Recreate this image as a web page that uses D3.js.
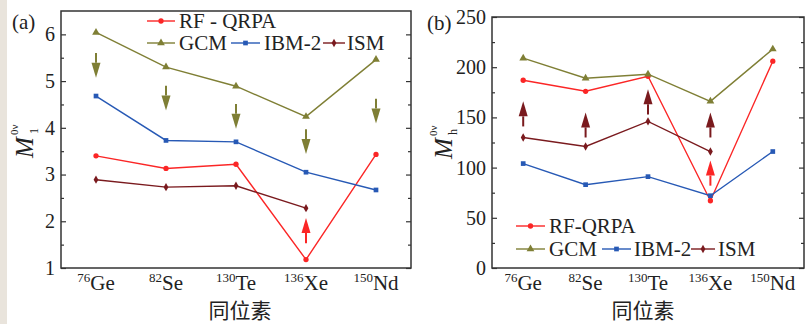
<!DOCTYPE html>
<html>
<head>
<meta charset="utf-8">
<script src="https://cdn.jsdelivr.net/npm/d3@7"></script>
<style>
  body { margin: 0; background: #fff; }
  svg { display: block; }
  text { font-family: "Liberation Serif", "Times New Roman", serif; fill: #222; }
</style>
</head>
<body>
<script>
const width = 810;
const height = 324;

const isotopes = ["Ge", "Se", "Te", "Xe", "Nd"];
const massNums = ["76", "82", "130", "136", "150"];
const models = ["RF-QRPA", "GCM", "IBM-2", "ISM"];
const colors = ["#fb2626", "#7f7f35", "#2759b5", "#7a1a1e"];

// panel (a): M_1^{0v}
const m1RF = [3.40, 3.13, 3.22, 1.18, 3.43];
const m1GCM = [6.04, 5.30, 4.89, 4.24, 5.46];
const m1IBM = [4.68, 3.73, 3.70, 3.05, 2.67];
const m1ISM = [2.89, 2.73, 2.76, 2.28, null];
// panel (b): M_h^{0v}
const mhRF = [187, 176, 191, 67, 206];
const mhGCM = [209, 189, 193, 166, 218];
const mhIBM = [104, 83, 91, 72, 116];
const mhISM = [130, 121, 146, 116, null];

// arrows: [isotope index, tail value, head value, model index]
const arrowsA = [[0, 5.6, 5.07, 1], [1, 4.9, 4.37, 1], [2, 4.51, 3.98, 1], [3, 3.97, 3.44, 1], [4, 4.62, 4.09, 1], [3, 1.53, 2.07, 0]];
const arrowsB = [[0, 141, 166, 3], [1, 130, 155, 3], [2, 153, 178, 3], [3, 130, 155, 3], [3, 82, 107, 0]];

const svg = d3.select("body").append("svg")
  .attr("width", width)
  .attr("height", height);

// beige strip on the left edge
svg.append("rect").attr("x", 0).attr("y", 0).attr("width", 7).attr("height", height).attr("fill", "#e9e4dc");

const symbols = [d3.symbolCircle, d3.symbolTriangle, d3.symbolSquare, d3.symbolDiamond];
const symSize = [22, 26, 22, 20];

function drawPanel(cfg) {
  const x = d3.scalePoint().domain(isotopes).range([cfg.left, cfg.right]).padding(0.5);
  const y = d3.scaleLinear().domain(cfg.yDomain).range([cfg.bottom, cfg.top]);
  const g = svg.append("g");

  // axes with inward ticks
  g.append("g").attr("transform", `translate(${cfg.left},0)`)
    .call(d3.axisLeft(y).tickValues(cfg.majors).tickSize(-5).tickPadding(6).tickFormat(d3.format("d")))
    .call(a => a.select(".domain").remove())
    .attr("font-family", null)
    .call(a => a.selectAll("text").attr("font-size", 20).attr("fill", "#222"));
  g.append("g").attr("transform", `translate(${cfg.left},0)`)
    .call(d3.axisLeft(y).tickValues(cfg.minors).tickSize(-3).tickFormat(""))
    .call(a => a.select(".domain").remove());
  g.append("g").attr("transform", `translate(${cfg.right},0)`)
    .call(d3.axisRight(y).tickValues(cfg.majors).tickSize(-5).tickFormat(""))
    .call(a => a.select(".domain").remove());
  g.append("g").attr("transform", `translate(${cfg.right},0)`)
    .call(d3.axisRight(y).tickValues(cfg.minors).tickSize(-3).tickFormat(""))
    .call(a => a.select(".domain").remove());
  g.selectAll(".tick line").attr("stroke", "#333").attr("stroke-width", 1.2);

  g.append("rect")
    .attr("x", cfg.left).attr("y", cfg.top)
    .attr("width", cfg.right - cfg.left).attr("height", cfg.bottom - cfg.top)
    .attr("fill", "none").attr("stroke", "#333").attr("stroke-width", 1.5);

  // x labels
  const xl = g.selectAll(".xl").data(isotopes).enter().append("text")
    .attr("x", d => x(d)).attr("y", cfg.bottom + 22)
    .attr("text-anchor", "middle").attr("font-size", 21);
  xl.append("tspan").attr("font-size", 13).attr("dy", -8).text((d, i) => massNums[i]);
  xl.append("tspan").attr("dy", 8).text(d => d);

  g.append("text").attr("x", (cfg.left + cfg.right) / 2 + cfg.titleDx).attr("y", 318)
    .attr("text-anchor", "middle").attr("font-size", 21)
    .style("font-family", '"Noto Sans CJK SC", sans-serif')
    .text("同位素");

  // y label
  const yl = g.append("g").attr("transform", `translate(${cfg.ylabX},${cfg.ylabY}) rotate(-90)`);
  yl.append("text").attr("font-size", 25).attr("font-style", "italic").text("M");
  yl.append("text").attr("x", 23).attr("y", -15).attr("font-size", 11).text("0ν");
  yl.append("text").attr("x", 24).attr("y", 5).attr("font-size", 12).text(cfg.sub);

  g.append("text").attr("x", cfg.tagX).attr("y", cfg.tagY).attr("font-size", 21).text(cfg.tag);

  // lines
  const line = d3.line()
    .defined(d => d[1] != null)
    .x(d => x(d[0])).y(d => y(d[1]));
  cfg.series.forEach((vals, k) => {
    const pts = isotopes.map((iso, i) => [iso, vals[i]]);
    g.append("path").attr("d", line(pts))
      .attr("fill", "none").attr("stroke", colors[k]).attr("stroke-width", 1.4);
    g.selectAll(null).data(pts.filter(p => p[1] != null)).enter().append("path")
      .attr("transform", p => `translate(${x(p[0])},${y(p[1])})`)
      .attr("d", d3.symbol(symbols[k], symSize[k]))
      .attr("fill", colors[k]);
  });

  // arrows
  cfg.arrows.forEach(([i, from, to, k]) => {
    const ax = x(isotopes[i]);
    const y0 = y(from), y1 = y(to);
    const dir = Math.sign(y1 - y0);
    const headLen = 15, headW = 4.5;
    const yb = y1 - dir * headLen;
    g.append("line").attr("x1", ax).attr("x2", ax).attr("y1", y0).attr("y2", yb)
      .attr("stroke", colors[k]).attr("stroke-width", 2);
    g.append("path")
      .attr("d", `M${ax - headW},${yb}L${ax + headW},${yb}L${ax},${y1}Z`)
      .attr("fill", colors[k]);
  });

  // legend
  cfg.legend.forEach(([lx, ly, len, tx], k) => {
    g.append("line").attr("x1", lx).attr("x2", lx + len).attr("y1", ly).attr("y2", ly)
      .attr("stroke", colors[k]).attr("stroke-width", 1.4);
    g.append("path").attr("transform", `translate(${lx + len / 2},${ly})`)
      .attr("d", d3.symbol(symbols[k], symSize[k])).attr("fill", colors[k]);
    g.append("text").attr("x", tx).attr("y", ly).attr("dy", "0.35em")
      .attr("font-size", 21).text(cfg.names[k]);
  });
}

drawPanel({
  left: 61, right: 411, top: 11, bottom: 268,
  yDomain: [1, 6.5],
  majors: d3.range(1, 7, 1),
  minors: d3.range(1.5, 6.5, 1),
  series: [m1RF, m1GCM, m1IBM, m1ISM],
  arrows: arrowsA,
  sub: "1",
  ylabX: 33, ylabY: 158,
  tag: "(a)", tagX: 12, tagY: 29,
  titleDx: 4,
  names: ["RF - QRPA", "GCM", "IBM-2", "ISM"],
  legend: [[147, 21, 28, 179], [147, 43, 28, 179], [231, 43, 29, 264], [323, 43, 22, 347]]
});

drawPanel({
  left: 492, right: 804, top: 17, bottom: 268,
  yDomain: [0, 250],
  majors: d3.range(0, 251, 50),
  minors: d3.range(25, 250, 50),
  series: [mhRF, mhGCM, mhIBM, mhISM],
  arrows: arrowsB,
  sub: "h",
  ylabX: 452, ylabY: 159,
  tag: "(b)", tagX: 427, tagY: 30,
  titleDx: -5,
  names: ["RF-QRPA", "GCM", "IBM-2", "ISM"],
  legend: [[516, 226, 29, 549], [516, 249, 29, 549], [602, 249, 29, 634], [691, 249, 24, 718]]
});
</script>
</body>
</html>
